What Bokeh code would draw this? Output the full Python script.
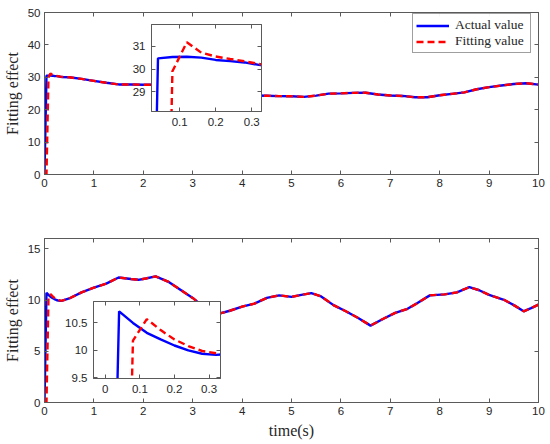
from bokeh.plotting import figure
from bokeh.layouts import column
from bokeh.models import Range1d, LinearAxis, FixedTicker, Legend, LegendItem
from bokeh.embed import file_html
from bokeh.resources import INLINE

# ---------------- data ----------------
# start-up samples (both plots)
t_start = [0, 0.04, 0.08, 0.12, 0.16, 0.20, 0.24, 0.28, 0.32, 0.36]

top_actual_start = [0, 30.47, 30.53, 30.54, 30.50, 30.40, 30.35, 30.29, 30.18, 30.10]
top_fit_start = [0, 0, 29.90, 31.18, 30.72, 30.55, 30.44, 30.34, 30.22, 30.12]

t_top_tail = [0.5, 0.75, 1.0, 1.25, 1.5, 1.75, 2.0, 2.25, 2.5, 2.75, 3.0, 3.25, 3.5,
              3.75, 4.0, 4.25, 4.5, 4.75, 5.0, 5.25, 5.5, 5.75, 6.0, 6.25, 6.5, 6.75,
              7.0, 7.25, 7.5, 7.75, 8.0, 8.25, 8.5, 8.75, 9.0, 9.25, 9.5, 9.75, 10.0]
top_tail = [30.0, 29.5, 28.9, 28.3, 27.8, 27.8, 27.7, 27.7, 27.5, 27.1, 26.4, 25.7, 25.1,
            24.7, 24.5, 24.4, 24.3, 24.2, 24.15, 23.95, 24.35, 24.95, 25.05, 25.2, 25.25, 24.7,
            24.4, 24.25, 23.85, 23.85, 24.45, 24.9, 25.35, 26.3, 26.95, 27.45, 27.95, 28.15, 27.75]

bot_actual_start = [0, 10.71, 10.50, 10.32, 10.20, 10.09, 10.00, 9.94, 9.92, 9.94]
bot_fit_start = [0, 0, 10.18, 10.57, 10.37, 10.20, 10.08, 9.99, 9.95, 9.94]

t_bot_tail = [0.5, 0.75, 1.0, 1.25, 1.5, 1.75, 1.9, 2.05, 2.25, 2.5, 2.75, 3.0, 3.25, 3.5,
              3.75, 4.0, 4.25, 4.5, 4.75, 5.0, 5.2, 5.4, 5.6, 5.85, 6.1, 6.35, 6.6, 6.85,
              7.1, 7.35, 7.55, 7.8, 8.1, 8.35, 8.6, 8.8, 9.0, 9.3, 9.5, 9.7, 9.85, 10.0]
bot_tail = [10.15, 10.75, 11.2, 11.6, 12.2, 12.05, 11.97, 12.1, 12.3, 11.8, 11.0, 10.2, 9.2, 8.62,
            8.95, 9.35, 9.65, 10.2, 10.45, 10.3, 10.5, 10.67, 10.35, 9.5, 8.9, 8.25, 7.5, 8.15,
            8.75, 9.14, 9.7, 10.45, 10.55, 10.75, 11.25, 10.95, 10.5, 10.02, 9.5, 8.9, 9.2, 9.55]

top_xticks = [0, 1, 2, 3, 4, 5, 6, 7, 8, 9, 10]
top_yticks = [0, 10, 20, 30, 40, 50]
bot_yticks = [0, 5, 10, 15]

inset_top_xticks = [0.1, 0.2, 0.3]
inset_top_xlabels = ["0.1", "0.2", "0.3"]
inset_top_yticks = [29, 30, 31]
inset_top_ylabels = ["29", "30", "31"]
inset_bot_xticks = [0, 0.1, 0.2, 0.3]
inset_bot_xlabels = ["0", "0.1", "0.2", "0.3"]
inset_bot_yticks = [9.5, 10, 10.5]
inset_bot_ylabels = ["9.5", "10", "10.5"]

legend_labels = ["Actual value", "Fitting value"]
y_label = "Fitting effect"
x_label = "time(s)"

# ---------------- style ----------------
AX = "#5a5a5a"
TXT = "#262626"
SANS = "Liberation Sans"
SERIF = "Liberation Serif"
BLUE = "#0000ff"
RED = "#ff0000"
LW = 2.4
DASH = "7 4"
LEFT, RIGHT = 42, 12   # the column aligns these borders for all its plots


def style_axis(ax, ticks, overrides=None, labels=True, standoff=4):
    ax.ticker = FixedTicker(ticks=ticks)
    ax.minor_tick_line_color = None
    ax.major_tick_in = 4
    ax.major_tick_out = 0
    ax.axis_line_color = AX
    ax.major_tick_line_color = AX
    ax.major_label_text_font = SANS
    if labels:
        ax.major_label_text_font_size = "11.5px"
        ax.major_label_text_color = TXT
        ax.major_label_standoff = standoff
    else:
        ax.major_label_text_font_size = "0px"
        ax.major_label_text_color = None
        ax.major_label_standoff = 0
    if overrides:
        ax.major_label_overrides = overrides


def make_fig(size, xr, yr, tb, xt, yt, xo=None, yo=None, standoff=4, inset=False):
    kw = dict(x_range=Range1d(*xr), y_range=Range1d(*yr),
              output_backend="svg", toolbar_location=None,
              min_border_left=LEFT, min_border_right=RIGHT,
              min_border_top=tb[0], min_border_bottom=tb[1])
    if inset:
        kw.update(frame_width=size[0], frame_height=size[1])
    else:
        kw.update(width=size[0], height=size[1])
    p = figure(**kw)
    p.grid.visible = False
    p.outline_line_color = AX
    p.outline_line_width = 1
    style_axis(p.below[0], xt, xo, True, standoff)
    style_axis(p.left[0], yt, yo, True, standoff)
    top_ax = LinearAxis()
    style_axis(top_ax, xt, labels=False)
    p.add_layout(top_ax, "above")
    right_ax = LinearAxis()
    style_axis(right_ax, yt, labels=False)
    p.add_layout(right_ax, "right")
    if inset:
        p.border_fill_color = None
        p.background_fill_color = "white"
    return p


def label_axis(ax, text):
    ax.axis_label = text
    ax.axis_label_text_font = SERIF
    ax.axis_label_text_font_size = "16px"
    ax.axis_label_text_font_style = "normal"
    ax.axis_label_text_color = TXT
    ax.axis_label_standoff = 4


def draw(p, t0, a0, f0, tt, tail):
    ra = p.line(t0 + tt, a0 + tail, line_color=BLUE, line_width=LW)
    rf = p.line(t0 + tt, f0 + tail, line_color=RED, line_width=LW, line_dash=DASH)
    return ra, rf


# ---------------- top panel ----------------
top = make_fig((550, 230), (0, 10), (0, 50), (12, 56), top_xticks, top_yticks)
label_axis(top.left[0], y_label)
ra, rf = draw(top, t_start, top_actual_start, top_fit_start, t_top_tail, top_tail)
legend = Legend(items=[LegendItem(label=legend_labels[0], renderers=[ra]),
                       LegendItem(label=legend_labels[1], renderers=[rf])],
                location=(368, 121))
legend.label_text_font = SERIF
legend.label_text_font_size = "13.5px"
legend.label_text_color = TXT
legend.glyph_width = 33
legend.glyph_height = 15
legend.label_height = 15
legend.label_width = 72
legend.label_standoff = 6
legend.padding = 3
legend.spacing = 0
legend.margin = 0
legend.border_line_color = "#404040"
legend.border_line_width = 0.8
legend.background_fill_color = "white"
top.add_layout(legend)

# inset of the top panel: frame 110 x 87
inset_top = make_fig((110, 87), (0.022, 0.327), (28.13, 31.96), (2, 18),
                     inset_top_xticks, inset_top_yticks,
                     dict(zip(inset_top_xticks, inset_top_xlabels)),
                     dict(zip(inset_top_yticks, inset_top_ylabels)), standoff=6, inset=True)
draw(inset_top, t_start, top_actual_start, top_fit_start, t_top_tail, top_tail)
inset_top.margin = (-208, 0, 101, 149 - LEFT)

# ---------------- bottom panel ----------------
bot = make_fig((550, 214), (0, 10), (0, 16), (8, 42), top_xticks, bot_yticks)
label_axis(bot.left[0], y_label)
label_axis(bot.below[0], x_label)
draw(bot, t_start, bot_actual_start, bot_fit_start, t_bot_tail, bot_tail)

# inset of the bottom panel: frame 127 x 77
inset_bot = make_fig((127, 77), (-0.034, 0.333), (9.49, 10.89), (2, 18),
                     inset_bot_xticks, inset_bot_yticks,
                     dict(zip(inset_bot_xticks, inset_bot_xlabels)),
                     dict(zip(inset_bot_yticks, inset_bot_ylabels)), standoff=6, inset=True)
draw(inset_bot, t_start, bot_actual_start, bot_fit_start, t_bot_tail, bot_tail)
inset_bot.margin = (-145, 0, 0, 91 - LEFT)

layout = column(top, inset_top, bot, inset_bot)
open("out.html", "w").write(file_html(layout, INLINE))
